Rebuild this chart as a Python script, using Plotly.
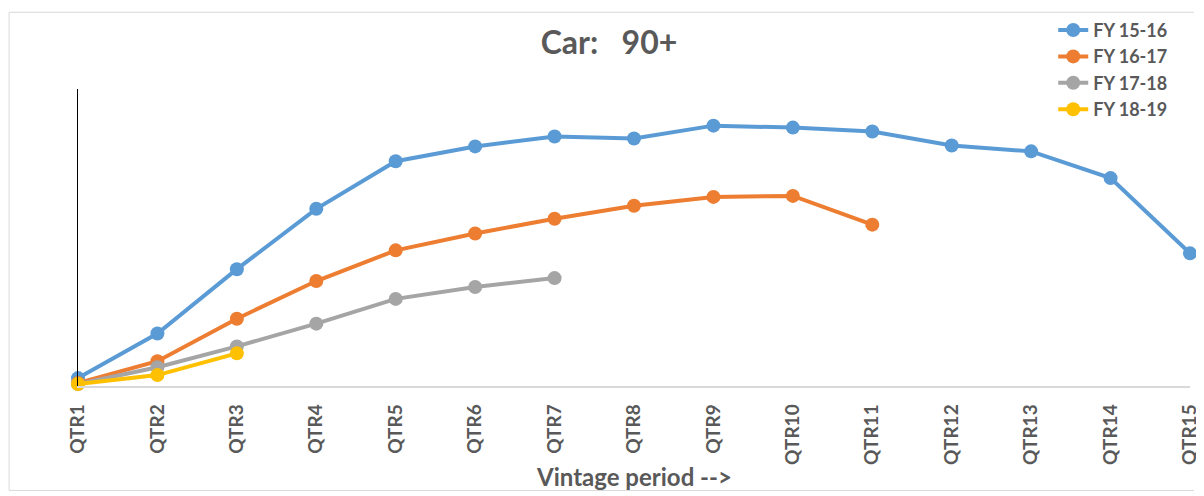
import plotly.graph_objects as go

quarters = ["QTR1", "QTR2", "QTR3", "QTR4", "QTR5", "QTR6", "QTR7", "QTR8",
            "QTR9", "QTR10", "QTR11", "QTR12", "QTR13", "QTR14", "QTR15"]

fy_15_16 = [0.08, 0.53, 1.18, 1.79, 2.27, 2.42, 2.52, 2.50, 2.63, 2.61, 2.57, 2.43, 2.37, 2.10, 1.34]
fy_16_17 = [0.03, 0.25, 0.68, 1.06, 1.37, 1.54, 1.69, 1.82, 1.91, 1.92, 1.63]
fy_17_18 = [0.02, 0.19, 0.40, 0.63, 0.88, 1.00, 1.09]
fy_18_19 = [0.02, 0.11, 0.33]

series_names = ["FY 15-16", "FY 16-17", "FY 17-18", "FY 18-19"]
series_values = [fy_15_16, fy_16_17, fy_17_18, fy_18_19]
series_colors = ["#5B9BD5", "#ED7D31", "#A5A5A5", "#FFC000"]

FONT = "Lato"
TXT = "#595959"

fig = go.Figure()
for name, vals, col in zip(series_names, series_values, series_colors):
    fig.add_trace(go.Scatter(
        x=quarters[:len(vals)], y=vals, name=name, mode="lines+markers",
        line=dict(color=col, width=4),
        marker=dict(color=col, size=14),
        cliponaxis=False,
    ))

W, H = 1196, 484
L, R, T, B = 70, 4, 78, 106
pw = W - L - R
ph = H - T - B

def px(x):
    return (x - L) / pw

def py(y):
    return (H - B - y) / ph

fig.update_layout(
    width=W, height=H,
    margin=dict(l=L, r=R, t=T, b=B),
    paper_bgcolor="white", plot_bgcolor="white",
    font=dict(family=FONT, color=TXT),
    title=dict(text="<b>Car:   90+</b>", x=601 / W, xref="container", xanchor="center",
               y=1 - 35 / H, yref="container", yanchor="middle",
               font=dict(family=FONT, size=32, color=TXT)),
    showlegend=True,
    legend=dict(x=px(1054), y=py(0), xanchor="left", yanchor="top",
                font=dict(family=FONT, size=18, color=TXT, weight="bold"),
                traceorder="normal",
                bgcolor="rgba(0,0,0,0)", borderwidth=0),
    xaxis=dict(type="category", range=[0, len(quarters) - 1],
               showline=True, linecolor="#D9D9D9", linewidth=1.5,
               showgrid=False, zeroline=False, ticks="",
               ticklabelstandoff=9,
               tickangle=-90, tickfont=dict(family=FONT, size=19, color=TXT, weight="bold")),
    yaxis=dict(range=[0, 3.0], showline=True, linecolor="black", linewidth=1,
               showgrid=False, zeroline=False, showticklabels=False, ticks=""),
    annotations=[dict(text="<b>Vintage period --></b>", xref="paper", yref="paper",
                      x=0.5, y=py(469), xanchor="center", yanchor="middle",
                      showarrow=False, font=dict(family=FONT, size=24, color=TXT))],
    shapes=[
        dict(type="line", xref="paper", yref="paper", x0=px(0.5), x1=px(0.5),
             y0=py(H - 0.5), y1=py(0.5), line=dict(color="#D9D9D9", width=1), layer="below"),
        dict(type="line", xref="paper", yref="paper", x0=px(0.5), x1=px(W),
             y0=py(0.5), y1=py(0.5), line=dict(color="#D9D9D9", width=1), layer="below"),
        dict(type="line", xref="paper", yref="paper", x0=px(0.5), x1=px(W),
             y0=py(H - 0.5), y1=py(H - 0.5), line=dict(color="#D9D9D9", width=1), layer="below"),
    ],
)

fig.write_html("out.html")
